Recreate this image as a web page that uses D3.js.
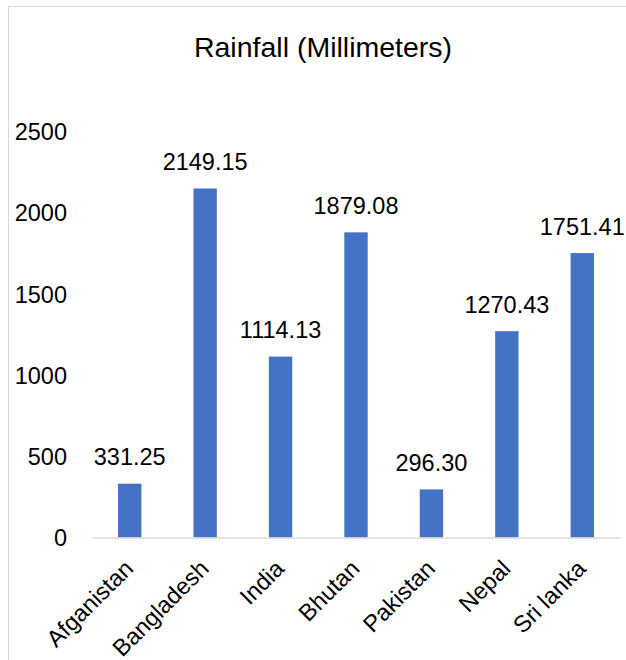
<!DOCTYPE html>
<html>
<head>
<meta charset="utf-8">
<script src="https://cdn.jsdelivr.net/npm/d3@7"></script>
<style>
  html, body { margin: 0; padding: 0; background: #fff; }
  svg { display: block; }
  text { font-family: "Liberation Sans", Arial, sans-serif; fill: #000; }
</style>
</head>
<body>
<svg id="chart" width="626" height="660"></svg>
<script>
// Annual rainfall by country (mm)
const countries = ["Afganistan", "Bangladesh", "India", "Bhutan", "Pakistan", "Nepal", "Sri lanka"];
const rainfall = [331.25, 2149.15, 1114.13, 1879.08, 296.30, 1270.43, 1751.41];
const yTicks = [0, 500, 1000, 1500, 2000, 2500];
const title = "Rainfall (Millimeters)";

const svg = d3.select("#chart");

// Chart frame
svg.append("rect")
  .attr("x", 8.5).attr("y", 6.5)
  .attr("width", 640).attr("height", 680)
  .attr("fill", "none")
  .attr("stroke", "#d9d9d9")
  .attr("stroke-width", 1);

const plot = { left: 92, right: 620, top: 131.5, bottom: 537.5 };

const x = d3.scaleBand()
  .domain(countries)
  .range([plot.left, plot.right])
  .paddingInner(0.69)
  .paddingOuter(0.345);

const y = d3.scaleLinear()
  .domain([0, 2500])
  .range([plot.bottom, plot.top]);

// Title
svg.append("text")
  .attr("x", 323)
  .attr("y", 56.5)
  .attr("text-anchor", "middle")
  .style("font-size", "28.5px")
  .text(title);

// Y axis labels (no axis line, no gridlines)
const yAxis = d3.axisLeft(y).tickValues(yTicks).tickSize(0).tickPadding(0)
  .tickFormat(d3.format("d"));
const gy = svg.append("g")
  .attr("transform", `translate(67,0)`)
  .call(yAxis);
gy.select(".domain").remove();
gy.selectAll("text")
  .attr("dy", "0.35em")
  .style("font-size", "23.5px")
  .style("font-family", "'Liberation Sans', Arial, sans-serif")
  .attr("fill", "#000");

// Bars
svg.append("g")
  .selectAll("rect")
  .data(countries)
  .join("rect")
  .attr("x", d => x(d))
  .attr("width", x.bandwidth())
  .attr("y", (d, i) => y(rainfall[i]))
  .attr("height", (d, i) => y(0) - y(rainfall[i]))
  .attr("fill", "#4472c4");

// Baseline
const gx = svg.append("g")
  .attr("transform", `translate(0,${plot.bottom})`)
  .call(d3.axisBottom(x).tickSize(0).tickFormat(""));
gx.select(".domain")
  .attr("stroke", "#d9d9d9")
  .attr("stroke-width", 1.5);

// Category labels, rotated
svg.append("g")
  .selectAll("text")
  .data(countries)
  .join("text")
  .attr("transform", d => `translate(${x(d) + x.bandwidth() / 2 + 5},570) rotate(-45)`)
  .attr("text-anchor", "end")
  .style("font-size", "23.5px")
  .text(d => d);

// Value labels
svg.append("g")
  .selectAll("text")
  .data(countries)
  .join("text")
  .attr("x", d => x(d) + x.bandwidth() / 2)
  .attr("y", (d, i) => y(rainfall[i]) - 18.5)
  .attr("text-anchor", "middle")
  .style("font-size", "23.5px")
  .text((d, i) => rainfall[i].toFixed(2));
</script>
</body>
</html>
